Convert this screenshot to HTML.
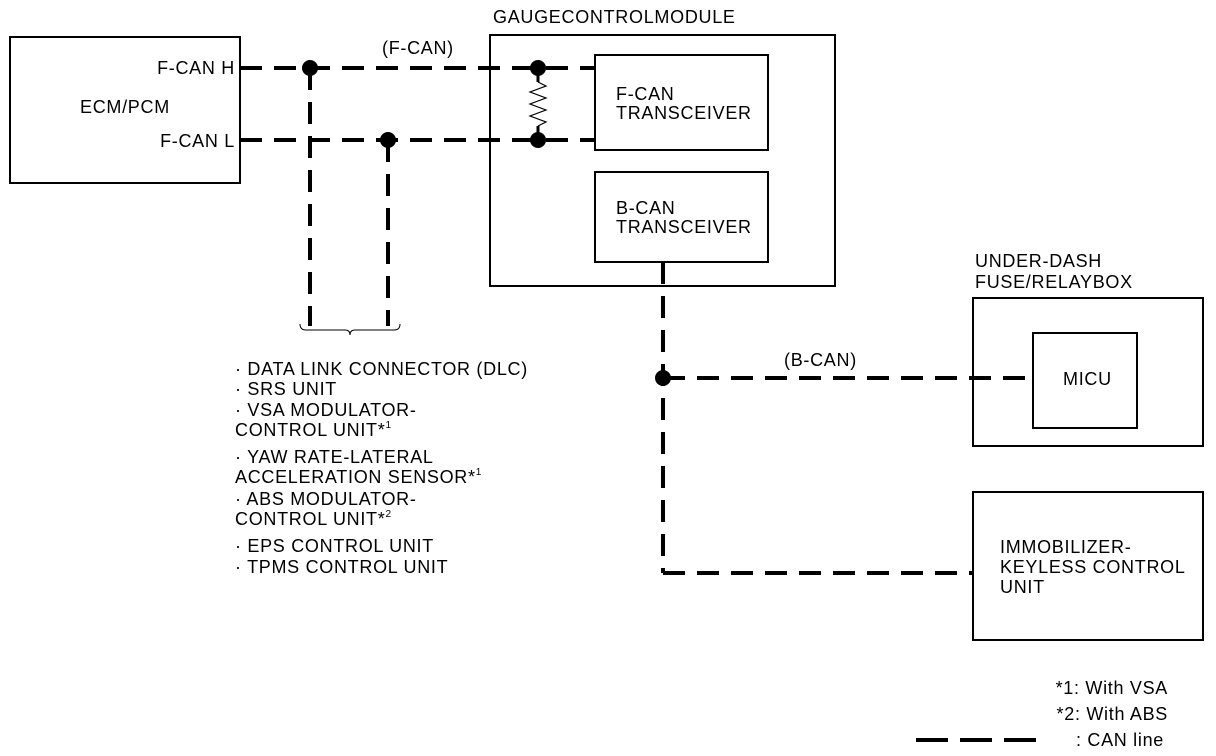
<!DOCTYPE html>
<html><head><meta charset="utf-8"><style>
html,body{margin:0;padding:0;background:#fff;}
svg{display:block;}
text{font-family:"Liberation Sans",Arial,sans-serif;font-size:18px;letter-spacing:0.7px;fill:#000;}
</style></head><body>
<svg width="1216" height="756" viewBox="0 0 1216 756" xmlns="http://www.w3.org/2000/svg">
<g fill="none" stroke="#000" stroke-width="2">
<rect x="10" y="37" width="230" height="146"/>
<rect x="490" y="35" width="345" height="251"/>
<rect x="595" y="55" width="173" height="95"/>
<rect x="595" y="172" width="173" height="90"/>
<rect x="973" y="298" width="230" height="148"/>
<rect x="1033" y="333" width="104" height="95"/>
<rect x="973" y="492" width="230" height="148"/>
</g>
<g fill="none" stroke="#000" stroke-width="4" stroke-dasharray="22,12">
<line x1="240" y1="68" x2="595" y2="68"/>
<line x1="240" y1="140" x2="595" y2="140"/>
<line x1="310" y1="68" x2="310" y2="326"/>
<line x1="388" y1="140" x2="388" y2="326"/>
<line x1="663" y1="262" x2="663" y2="573"/>
<line x1="663" y1="573" x2="973" y2="573"/>
<line x1="663" y1="378" x2="1033" y2="378"/>
<line x1="916" y1="740" x2="1045" y2="740" stroke-dasharray="32,12"/>
</g>
<g stroke="#000" fill="none">
<line x1="538" y1="68" x2="538" y2="82" stroke-width="3"/>
<polyline points="538,82 546,86 530,92 546,98 530,104 546,110 530,116 546,122 538,126" stroke-width="1.2"/>
<line x1="538" y1="126" x2="538" y2="140" stroke-width="3"/>
<path d="M300,324 Q300,330 306,330 L345,330 Q350,330 350,335 Q350,330 355,330 L394,330 Q400,330 400,324" stroke-width="1"/>
</g>
<g fill="#000">
<circle cx="310" cy="68" r="8"/>
<circle cx="388" cy="140" r="8"/>
<circle cx="538" cy="68" r="8"/>
<circle cx="538" cy="140" r="8"/>
<circle cx="663" cy="378" r="8"/>
</g>
<text x="235" y="74" text-anchor="end">F-CAN H</text>
<text x="235" y="147" text-anchor="end">F-CAN L</text>
<text x="80" y="113">ECM/PCM</text>
<text x="382" y="54">(F-CAN)</text>
<text x="493" y="23">GAUGECONTROLMODULE</text>
<text x="616" y="100">F-CAN</text>
<text x="616" y="119">TRANSCEIVER</text>
<text x="616" y="214">B-CAN</text>
<text x="616" y="233">TRANSCEIVER</text>
<text x="784" y="366">(B-CAN)</text>
<text x="975" y="267">UNDER-DASH</text>
<text x="975" y="288">FUSE/RELAYBOX</text>
<text x="1063" y="385">MICU</text>
<text x="1000" y="553">IMMOBILIZER-</text>
<text x="1000" y="573">KEYLESS CONTROL</text>
<text x="1000" y="593">UNIT</text>
<text x="235" y="375">· DATA LINK CONNECTOR (DLC)</text>
<text x="235" y="395">· SRS UNIT</text>
<text x="235" y="416">· VSA MODULATOR-</text>
<text x="235" y="436">CONTROL UNIT*<tspan font-size="10" dy="-8">1</tspan></text>
<text x="235" y="463">· YAW RATE-LATERAL</text>
<text x="235" y="483">ACCELERATION SENSOR*<tspan font-size="10" dy="-8">1</tspan></text>
<text x="235" y="505">· ABS MODULATOR-</text>
<text x="235" y="525">CONTROL UNIT*<tspan font-size="10" dy="-8">2</tspan></text>
<text x="235" y="552">· EPS CONTROL UNIT</text>
<text x="235" y="573">· TPMS CONTROL UNIT</text>
<text x="1168" y="694" text-anchor="end">*1: With VSA</text>
<text x="1168" y="720" text-anchor="end">*2: With ABS</text>
<text x="1164" y="746" text-anchor="end">: CAN line</text>
</svg>
</body></html>
